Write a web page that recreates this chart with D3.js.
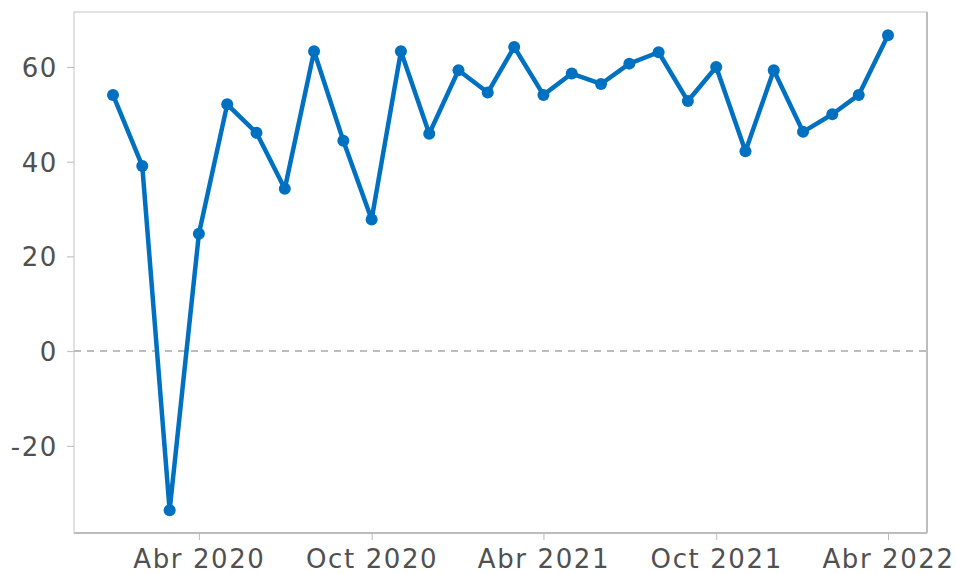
<!DOCTYPE html>
<html>
<head>
<meta charset="utf-8">
<script src="https://cdn.jsdelivr.net/npm/d3@7"></script>
<style>
  body { margin: 0; background: #fff; }
  .axis text { font-family: "DejaVu Sans", sans-serif; font-size: 26px; fill: #505050; letter-spacing: 1.6px; }
  .axis line { stroke: #bbb; }
  .axis path { display: none; }
</style>
</head>
<body>
<svg width="956" height="574"></svg>
<script>
// monthly values, Jan 2020 .. Apr 2022
var months = ["2020-01","2020-02","2020-03","2020-04","2020-05","2020-06","2020-07","2020-08",
  "2020-09","2020-10","2020-11","2020-12","2021-01","2021-02","2021-03","2021-04","2021-05",
  "2021-06","2021-07","2021-08","2021-09","2021-10","2021-11","2021-12","2022-01","2022-02",
  "2022-03","2022-04"];
var values = [54.1, 39.1, -33.6, 24.8, 52.1, 46.1, 34.3, 63.3, 44.4, 27.8, 63.3, 45.9,
  59.3, 54.6, 64.2, 54.1, 58.6, 56.4, 60.7, 63.1, 52.8, 60.0, 42.2, 59.3, 46.3, 50.0, 54.1, 66.7];
var tickMonths = ["2020-04","2020-10","2021-04","2021-10","2022-04"];
var monthNames = ["Ene","Feb","Mar","Abr","May","Jun","Jul","Ago","Sep","Oct","Nov","Dic"];
var yTicks = [-20, 0, 20, 40, 60];

var parseMonth = d3.timeParse("%Y-%m");
var data = months.map(function(m, i) { return { date: parseMonth(m), value: values[i] }; });

var svg = d3.select("svg"),
    margin = {top: 12, right: 29, bottom: 41, left: 74},
    width = +svg.attr("width") - margin.left - margin.right,
    height = +svg.attr("height") - margin.top - margin.bottom,
    g = svg.append("g").attr("transform", "translate(" + margin.left + "," + margin.top + ")");

var x = d3.scaleTime()
    .domain(d3.extent(data, function(d) { return d.date; }))
    .range([39, width - 39]);
var y = d3.scaleLinear().domain([-38.4, 71.6]).range([height, 0]);

var fmt = function(d) { return monthNames[d.getMonth()] + " " + d.getFullYear(); };

// frame
g.append("rect")
    .attr("width", width).attr("height", height)
    .attr("fill", "none").attr("stroke", "#c4c4c4").attr("stroke-width", 1);
g.append("line").attr("x1", width).attr("x2", width).attr("y1", 0).attr("y2", height)
    .attr("stroke", "#bdbdbd").attr("stroke-width", 2);
g.append("line").attr("x1", 0).attr("x2", width).attr("y1", height).attr("y2", height)
    .attr("stroke", "#bdbdbd").attr("stroke-width", 2);

g.append("g")
    .attr("class", "axis axis--x")
    .attr("transform", "translate(0," + height + ")")
    .call(d3.axisBottom(x).tickValues(tickMonths.map(parseMonth)).tickFormat(fmt).tickSize(7).tickPadding(7))
    .selectAll("text").attr("dy", "0.8em");

g.append("g")
    .attr("class", "axis axis--y")
    .call(d3.axisLeft(y).tickValues(yTicks).tickFormat(function(d) { return String(d); }).tickSize(7).tickPadding(9))
    .selectAll("text").attr("dy", "0.36em");

// zero line
g.append("line")
    .attr("x1", 0).attr("x2", width)
    .attr("y1", y(0)).attr("y2", y(0))
    .attr("stroke", "#bdbdbd").attr("stroke-width", 2)
    .attr("stroke-dasharray", "7,6");

var line = d3.line()
    .x(function(d) { return x(d.date); })
    .y(function(d) { return y(d.value); });

g.append("path")
    .datum(data)
    .attr("fill", "none")
    .attr("stroke", "#0070c0")
    .attr("stroke-width", 4.5)
    .attr("stroke-linejoin", "round")
    .attr("d", line);

g.selectAll(".dot")
    .data(data)
    .enter().append("circle")
    .attr("class", "dot")
    .attr("cx", function(d) { return x(d.date); })
    .attr("cy", function(d) { return y(d.value); })
    .attr("r", 6)
    .attr("fill", "#0070c0");
</script>
</body>
</html>
